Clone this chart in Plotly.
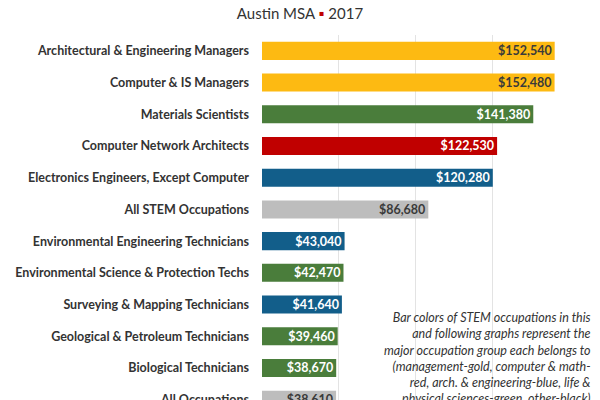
import plotly.graph_objects as go

occupations = [
    "Architectural & Engineering Managers",
    "Computer & IS Managers",
    "Materials Scientists",
    "Computer Network Architects",
    "Electronics Engineers, Except Computer",
    "All STEM Occupations",
    "Environmental Engineering Technicians",
    "Environmental Science & Protection Techs",
    "Surveying & Mapping Technicians",
    "Geological & Petroleum Technicians",
    "Biological Technicians",
    "All Occupations",
]
wages = [152540, 152480, 141380, 122530, 120280, 86680, 43040, 42470, 41640, 39460, 38670, 38610]
groups = ["management", "management", "science", "computer", "engineering", "all",
          "engineering", "science", "engineering", "science", "science", "all"]

group_colors = {
    "management": "#FDBA12",
    "science": "#4A7D3B",
    "computer": "#C00000",
    "engineering": "#125E8A",
    "all": "#BDBDBD",
}
group_text = {
    "management": "#3A3A3A",
    "science": "#FFFFFF",
    "computer": "#FFFFFF",
    "engineering": "#FFFFFF",
    "all": "#3A3A3A",
}

labels = ["${:,}".format(v) for v in wages]

fig = go.Figure(go.Bar(
    x=wages,
    y=occupations,
    orientation="h",
    marker=dict(color=[group_colors[g] for g in groups], line=dict(width=0)),
    text=labels,
    textposition="inside",
    insidetextanchor="end",
    textangle=0,
    textfont=dict(family="Lato", size=12.5, color=[group_text[g] for g in groups], weight="bold"),
    hoverinfo="skip",
))

plot_l, plot_r, plot_t = 262, 31, 35
plot_w = 600 - plot_l - plot_r
plot_h = 400 - plot_t

fig.update_layout(
    width=600, height=400,
    margin=dict(l=plot_l, r=plot_r, t=plot_t, b=0, autoexpand=False),
    paper_bgcolor="white", plot_bgcolor="white",
    bargap=0.43,
    showlegend=False,
    uniformtext=dict(mode="show", minsize=12.5),
    font=dict(family="Lato", color="#333333"),
    title=dict(
        text="Austin MSA <span style='color:#C00000'>▪</span> 2017",
        x=0.5, xanchor="center", xref="container",
        y=1 - 14 / 400, yanchor="middle", yref="container",
        font=dict(family="Lato", size=15, color="#333333"),
    ),
    xaxis=dict(
        range=[0, 160000], tickvals=[40000, 80000, 120000, 160000],
        showticklabels=False, showgrid=True, gridcolor="#E3E3E3", gridwidth=1,
        zeroline=False, showline=True, linecolor="#E3E3E3", linewidth=1,
        fixedrange=True,
    ),
    yaxis=dict(
        range=[11.01, -0.5], type="category",
        tickfont=dict(family="Lato", size=12.5, color="#333333", weight="bold"),
        ticks="", ticklabelstandoff=12, showgrid=False, zeroline=False,
        automargin=False, fixedrange=True,
    ),
    annotations=[dict(
        text=("Bar colors of STEM occupations in this<br>"
              "and following graphs represent the<br>"
              "major occupation group each belongs to<br>"
              "(management-gold, computer & math-<br>"
              "red, arch. & engineering-blue, life &<br>"
              "physical sciences-green, other-black)"),
        xref="paper", yref="paper",
        x=(593 - plot_l) / plot_w, y=1 - (308 - plot_t) / plot_h,
        align="right", showarrow=False,
        xanchor="right", yanchor="top",
        font=dict(family="Lato", size=12.5, color="#333333", style="italic"),
    )],
)

fig.write_html("out.html", config={"displayModeBar": False},
               post_script="document.body.style.margin='0';")
